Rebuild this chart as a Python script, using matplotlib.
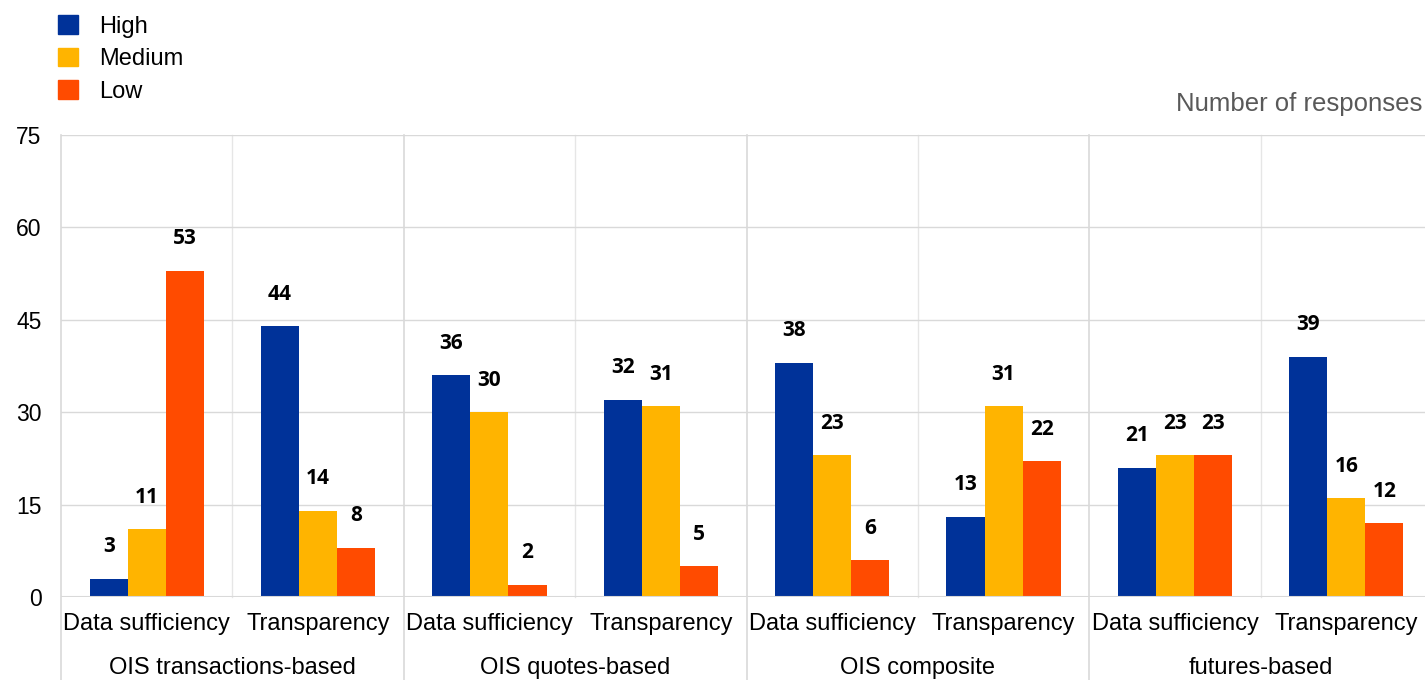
import matplotlib
matplotlib.use("Agg")
import matplotlib.pyplot as plt
import numpy as np
from matplotlib.patches import Patch

groups = ["OIS transactions-based", "OIS quotes-based", "OIS composite", "futures-based"]
subcats = ["Data sufficiency", "Transparency"]
series = ["High", "Medium", "Low"]
high = [3, 44, 36, 32, 38, 13, 21, 39]
medium = [11, 14, 30, 31, 23, 31, 23, 16]
low = [53, 8, 2, 5, 6, 22, 23, 12]
colors = ["#003299", "#FFB400", "#FF4B00"]
yticks = [0, 15, 30, 45, 60, 75]

plt.rcParams['font.family'] = ['Liberation Sans', 'DejaVu Sans']

fig = plt.figure(figsize=(14.25, 6.8), dpi=100)
ax = fig.add_axes([61/1425, 1 - 597/680, (1432 - 61)/1425, (597 - 135)/680])

n = len(high)
x = np.arange(n) + 0.5
w = 0.222
data = [high, medium, low]
for j, (vals, c) in enumerate(zip(data, colors)):
    pos = x + (j - 1) * w
    ax.bar(pos, vals, width=w, color=c, zorder=3, label=series[j])
    for xp, v in zip(pos, vals):
        ax.annotate(str(v), (xp, v), xytext=(0, 23), textcoords='offset points',
                    ha='center', va='center', fontsize=15, fontweight='bold',
                    family=['Open Sans', 'DejaVu Sans'])

ax.set_xlim(0, n)
ax.set_ylim(0, 75)
ax.set_yticks(yticks)
ax.set_yticklabels([str(t) for t in yticks], fontsize=16.5)
ax.tick_params(axis='y', length=0, pad=14)
ax.tick_params(axis='x', length=0, labelbottom=False)
for s in ax.spines.values():
    s.set_visible(False)
ax.yaxis.grid(True, color='#d9d9d9', linewidth=1, zorder=0)

trans = ax.get_xaxis_transform()
for i in range(n + 1):
    if i % 2 == 0:
        ax.plot([i, i], [1, -0.19], transform=trans, color='#d9d9d9', lw=1.2,
                clip_on=False, zorder=1)
    else:
        ax.plot([i, i], [1, 0], transform=trans, color='#e6e6e6', lw=1,
                clip_on=False, zorder=1)
ax.axhline(0, color='#d9d9d9', lw=1.5, zorder=4)

for i in range(n):
    ax.text(x[i], -0.058, subcats[i % 2], transform=trans, ha='center', va='center',
            fontsize=17)
for g in range(len(groups)):
    ax.text(2 * g + 1, -0.153, groups[g], transform=trans, ha='center', va='center',
            fontsize=17)

handles = [Patch(color=c, label=s) for c, s in zip(colors, series)]
fig.legend(handles=handles, loc='upper left', bbox_to_anchor=(58/1425, 1 - 15/680),
           frameon=False, fontsize=17, handlelength=0.85, handleheight=0.85,
           handletextpad=0.9, labelspacing=0.42, borderaxespad=0, borderpad=0)

fig.text(1422/1425, 1 - 104/680, "Number of responses", ha='right', va='center',
         fontsize=18.5, color='#595959')

fig.savefig("out.png", dpi=100)
